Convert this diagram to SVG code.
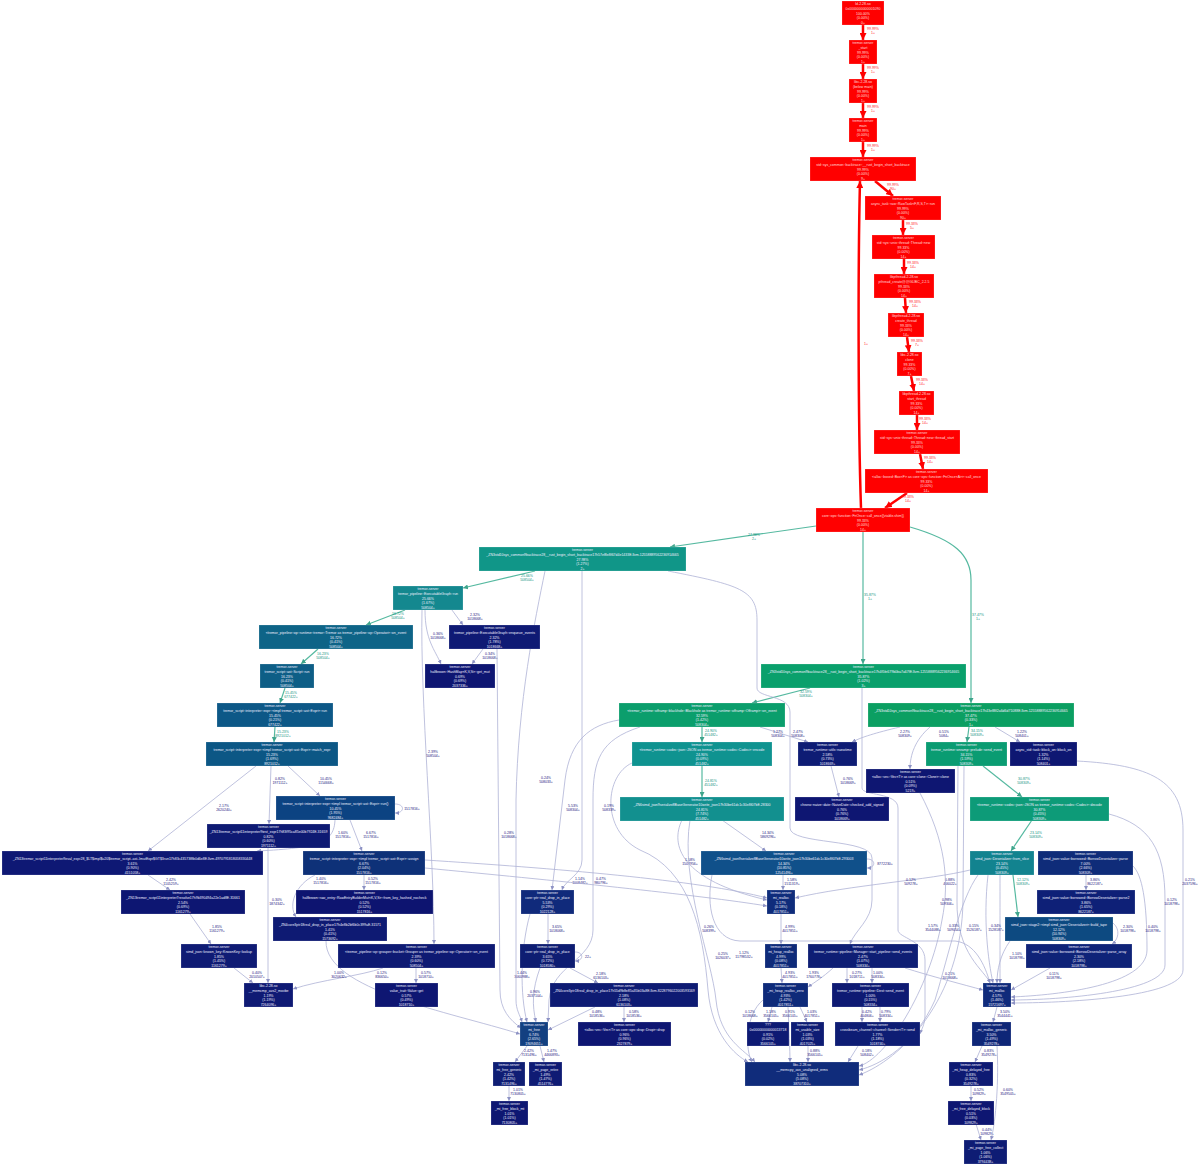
<svg xmlns="http://www.w3.org/2000/svg" width="1200" height="1165" viewBox="0 0 1200 1165">
<defs>
<marker id="ar" viewBox="0 0 10 10" refX="10" refY="5" markerWidth="7" markerHeight="7" markerUnits="userSpaceOnUse" orient="auto"><path d="M0,0 L10,5 L0,10 z" fill="#ff0000"/></marker>
<marker id="at" viewBox="0 0 10 10" refX="10" refY="5" markerWidth="5" markerHeight="5" markerUnits="userSpaceOnUse" orient="auto"><path d="M0,0 L10,5 L0,10 z" fill="#3fa58c"/></marker>
<marker id="an" viewBox="0 0 10 10" refX="10" refY="5" markerWidth="4" markerHeight="4" markerUnits="userSpaceOnUse" orient="auto"><path d="M0,0 L10,5 L0,10 z" fill="#8d92c4"/></marker>
</defs>
<style>
text{font-family:"Liberation Sans",Arial,sans-serif;font-size:3.5px;text-anchor:middle}
.nd rect{stroke:#ffffff;stroke-opacity:.3;stroke-width:.6}
.nd text{fill:#f0f0ff}
.rd rect{fill:#ff0000}
.rd text{fill:#ffdede}
.er{fill:none;stroke:#ff0000;stroke-width:2.5;marker-end:url(#ar)}
.et{fill:none;stroke:#55b9a0;stroke-width:1.2;marker-end:url(#at)}
.en{fill:none;stroke:#aeb2d6;stroke-width:.8;marker-end:url(#an)}
.lr{fill:#ff1a1a}
.lt{fill:#13957f}
.ln{fill:#1c2080}
</style>
<rect width="1200" height="1165" fill="#ffffff"/>
<g id="edges">
<path class="er" d="M863,25 L863,40"/><text class="lr" x="873" y="30">99.99%<tspan x="873" dy="4.2">1+</tspan></text>
<path class="er" d="M863,64 L863,79"/><text class="lr" x="873" y="69">99.99%<tspan x="873" dy="4.2">1+</tspan></text>
<path class="er" d="M863,103 L863,118"/><text class="lr" x="873" y="108">99.99%<tspan x="873" dy="4.2">1+</tspan></text>
<path class="er" d="M863,142 L863,157"/><text class="lr" x="873" y="147">99.99%<tspan x="873" dy="4.2">1+</tspan></text>
<path class="er" d="M875,181 L893,196"/><text class="lr" x="893" y="186">99.99%<tspan x="893" dy="4.2">90+</tspan></text>
<path class="er" d="M903,220 L903,235"/><text class="lr" x="912" y="225">99.33%<tspan x="912" dy="4.2">5+</tspan></text>
<path class="er" d="M904,259 L904,274"/><text class="lr" x="913" y="264">99.33%<tspan x="913" dy="4.2">14+</tspan></text>
<path class="er" d="M905,298 L906,313"/><text class="lr" x="915" y="303">99.33%<tspan x="915" dy="4.2">14+</tspan></text>
<path class="er" d="M907,337 L909,352"/><text class="lr" x="917" y="342">99.33%<tspan x="917" dy="4.2">7+</tspan></text>
<path class="er" d="M911,376 L914,391"/><text class="lr" x="922" y="381">99.33%<tspan x="922" dy="4.2">14+</tspan></text>
<path class="er" d="M917,415 L917,430"/><text class="lr" x="925" y="420">99.33%<tspan x="925" dy="4.2">14+</tspan></text>
<path class="er" d="M920,454 L923,469"/><text class="lr" x="930" y="459">99.33%<tspan x="930" dy="4.2">14+</tspan></text>
<path class="er" d="M907,493 L885,508"/><text class="lr" x="908" y="498">99.33%<tspan x="908" dy="4.2">14+</tspan></text>
<path class="er" d="M861,508 C858,420 858,260 860,181"/><text class="lr" x="866" y="345">1+</text>

<path class="et" d="M816,526 L670,547"/><text class="lt" x="754" y="536">27.98%<tspan x="754" dy="4.2">2+</tspan></text>
<path class="et" d="M863,532 L863,664"/><text class="lt" x="870" y="596">35.87%<tspan x="870" dy="4.2">1+</tspan></text>
<path class="et" d="M910,527 C955,540 971,555 971,580 L971,703"/><text class="lt" x="978" y="616">37.47%<tspan x="978" dy="4.2">1+</tspan></text>
<path class="et" d="M535,571 L463,588"/><text class="lt" x="527" y="577">25.66%<tspan x="527" dy="4.2">508504+</tspan></text>
<path class="et" d="M405,610 L366,625"/><text class="lt" x="398" y="615">16.72%<tspan x="398" dy="4.2">508504+</tspan></text>
<path class="et" d="M318,649 L301,664"/><text class="lt" x="323" y="655">16.23%<tspan x="323" dy="4.2">508504+</tspan></text>
<path class="et" d="M285,688 L280,703"/><text class="lt" x="291" y="694">15.45%<tspan x="291" dy="4.2">677422+</tspan></text>
<path class="et" d="M275,727 L274,742"/><text class="lt" x="283" y="733">15.23%<tspan x="283" dy="4.2">8921012+</tspan></text>
<path class="et" d="M810,688 L752,703"/><text class="lt" x="806" y="693">32.59%<tspan x="806" dy="4.2">508304+</tspan></text>
<path class="et" d="M702,727 L702,742"/><text class="lt" x="711" y="732">24.90%<tspan x="711" dy="4.2">451482+</tspan></text>
<path class="et" d="M702,766 L702,797"/><text class="lt" x="711" y="782">24.81%<tspan x="711" dy="4.2">451482+</tspan></text>
<path class="et" d="M969,727 L967,742"/><text class="lt" x="977" y="732">34.15%<tspan x="977" dy="4.2">508309+</tspan></text>
<path class="et" d="M983,766 L1022,797"/><text class="lt" x="1024" y="780">30.87%<tspan x="1024" dy="4.2">508309+</tspan></text>
<path class="et" d="M1032,820 L1011,851"/><text class="lt" x="1036" y="834">23.14%<tspan x="1036" dy="4.2">508309+</tspan></text>
<path class="et" d="M1013,875 L1018,917"/><text class="lt" x="1023" y="881">12.12%<tspan x="1023" dy="4.2">508309+</tspan></text>

<path class="en" d="M449,606 L463,625"/><text class="ln" x="475" y="616">2.32%<tspan x="475" dy="4.2">1018668+</tspan></text>
<path class="en" d="M425,610 C425,640 435,650 441,664"/><text class="ln" x="438" y="635">0.36%<tspan x="438" dy="4.2">1018668+</tspan></text>
<path class="en" d="M483,649 L472,664"/><text class="ln" x="490" y="655">0.34%<tspan x="490" dy="4.2">1018668+</tspan></text>
<path class="en" d="M422,610 C420,700 434,850 434,944"/><text class="ln" x="433" y="753">2.39%<tspan x="433" dy="4.2">508504+</tspan></text>
<path class="en" d="M497,649 L500,990 C500,1010 510,1020 521,1028"/><text class="ln" x="509" y="834">0.28%<tspan x="509" dy="4.2">1018668+</tspan></text>
<path class="en" d="M288,766 L320,796"/><text class="ln" x="326" y="780">10.45%<tspan x="326" dy="4.2">1154668+</tspan></text>
<path class="en" d="M271,766 L269,824"/><text class="ln" x="280" y="780">0.82%<tspan x="280" dy="4.2">1971112+</tspan></text>
<path class="en" d="M256,766 L148,851"/><text class="ln" x="224" y="807">2.17%<tspan x="224" dy="4.2">2620240+</tspan></text>
<path class="en" d="M395,804 C405,804 405,813 395,813"/><text class="ln" x="412" y="810">1517816+</text>
<path class="en" d="M335,820 C334,842 320,848 257,851"/><text class="ln" x="343" y="834">1.60%<tspan x="343" dy="4.2">1517816+</tspan></text>
<path class="en" d="M350,820 L362,851"/><text class="ln" x="371" y="834">6.67%<tspan x="371" dy="4.2">1517816+</tspan></text>
<path class="en" d="M148,875 L170,890"/><text class="ln" x="171" y="881">2.42%<tspan x="171" dy="4.2">1105259+</tspan></text>
<path class="en" d="M190,914 L211,944"/><text class="ln" x="217" y="928">1.85%<tspan x="217" dy="4.2">1161279+</tspan></text>
<path class="en" d="M234,968 L253,983"/><text class="ln" x="257" y="974">0.40%<tspan x="257" dy="4.2">2010507+</tspan></text>
<path class="en" d="M268,848 L268,983"/><text class="ln" x="277" y="901">0.30%<tspan x="277" dy="4.2">1874342+</tspan></text>
<path class="en" d="M383,968 C360,976 320,980 293,989"/><text class="ln" x="382" y="974">0.12%<tspan x="382" dy="4.2">836650+</tspan></text>
<path class="en" d="M416,968 L416,983"/><text class="ln" x="426" y="974">0.57%<tspan x="426" dy="4.2">1018710+</tspan></text>
<path class="en" d="M364,875 L364,890"/><text class="ln" x="373" y="880">0.52%<tspan x="373" dy="4.2">1517816+</tspan></text>
<path class="en" d="M315,875 C295,885 288,905 296,917"/><text class="ln" x="321" y="880">1.40%<tspan x="321" dy="4.2">1517816+</tspan></text>
<path class="en" d="M326,941 C325,990 450,1012 520,1034"/><text class="ln" x="339" y="974">1.00%<tspan x="339" dy="4.2">3020632+</tspan></text>
<path class="en" d="M425,860 C550,868 700,880 767,898"/><text class="ln" x="580" y="880">1.14%<tspan x="580" dy="4.2">1008482+</tspan></text>
<path class="en" d="M425,868 C550,880 700,895 767,906"/><text class="ln" x="601" y="880">0.47%<tspan x="601" dy="4.2">980796+</tspan></text>
<path class="en" d="M548,914 L548,944"/><text class="ln" x="557" y="928">3.65%<tspan x="557" dy="4.2">1018068+</tspan></text>
<path class="en" d="M575,952 C584,952 584,961 575,961"/><text class="ln" x="588" y="958">22+</text>
<path class="en" d="M530,914 C520,950 520,995 527,1022"/><text class="ln" x="522" y="974">1.44%<tspan x="522" dy="4.2">3060988+</tspan></text>
<path class="en" d="M540,968 C532,990 532,1005 536,1022"/><text class="ln" x="535" y="993">0.96%<tspan x="535" dy="4.2">2037104+</tspan></text>
<path class="en" d="M570,968 L598,983"/><text class="ln" x="601" y="975">2.18%<tspan x="601" dy="4.2">6136103+</tspan></text>
<path class="en" d="M595,1007 L548,1030"/><text class="ln" x="597" y="1013">0.48%<tspan x="597" dy="4.2">1018536+</tspan></text>
<path class="en" d="M624,1007 L624,1022"/><text class="ln" x="634" y="1013">0.58%<tspan x="634" dy="4.2">1018536+</tspan></text>
<path class="en" d="M527,1046 L515,1062"/><text class="ln" x="529" y="1052">2.42%<tspan x="529" dy="4.2">7131496+</tspan></text>
<path class="en" d="M540,1046 L544,1062"/><text class="ln" x="552" y="1052">1.47%<tspan x="552" dy="4.2">4466893+</tspan></text>
<path class="en" d="M509,1085 L509,1101"/><text class="ln" x="518" y="1091">1.01%<tspan x="518" dy="4.2">7130805+</tspan></text>
<path class="en" d="M781,914 L781,944"/><text class="ln" x="790" y="928">4.99%<tspan x="790" dy="4.2">4017851+</tspan></text>
<path class="en" d="M781,968 L782,983"/><text class="ln" x="790" y="974">4.93%<tspan x="790" dy="4.2">4017851+</tspan></text>
<path class="en" d="M772,1007 L768,1022"/><text class="ln" x="771" y="1013">1.18%<tspan x="771" dy="4.2">3566105+</tspan></text>
<path class="en" d="M788,1007 C789,1030 790,1050 790,1062"/><text class="ln" x="790" y="1013">0.91%<tspan x="790" dy="4.2">3566105+</tspan></text>
<path class="en" d="M800,1007 L807,1022"/><text class="ln" x="812" y="1013">1.03%<tspan x="812" dy="4.2">4017851+</tspan></text>
<path class="en" d="M808,1046 L808,1062"/><text class="ln" x="815" y="1052">0.88%<tspan x="815" dy="4.2">3566105+</tspan></text>
<path class="en" d="M763,1000 C745,1015 745,1050 752,1062"/><text class="ln" x="750" y="1013">0.12%<tspan x="750" dy="4.2">1018668+</tspan></text>
<path class="en" d="M997,1007 L993,1022"/><text class="ln" x="1005" y="1013">3.50%<tspan x="1005" dy="4.2">3544441+</tspan></text>
<path class="en" d="M982,1046 L975,1062"/><text class="ln" x="989" y="1052">0.83%<tspan x="989" dy="4.2">3549278+</tspan></text>
<path class="en" d="M971,1085 L971,1101"/><text class="ln" x="979" y="1091">0.52%<tspan x="979" dy="4.2">109829+</tspan></text>
<path class="en" d="M976,1124 L981,1140"/><text class="ln" x="987" y="1131">0.44%<tspan x="987" dy="4.2">109829+</tspan></text>
<path class="en" d="M997,1046 C999,1080 996,1120 991,1140"/><text class="ln" x="1008" y="1091">0.60%<tspan x="1008" dy="4.2">3549505+</tspan></text>
<path class="en" d="M1086,875 L1086,890"/><text class="ln" x="1095" y="881">3.86%<tspan x="1095" dy="4.2">8622187+</tspan></text>
<path class="en" d="M1113,923 C1121,930 1118,940 1112,944"/><text class="ln" x="1128" y="928">2.30%<tspan x="1128" dy="4.2">1018798+</tspan></text>
<path class="en" d="M1010,941 C1000,955 997,970 997,983"/><text class="ln" x="1017" y="955">1.10%<tspan x="1017" dy="4.2">1018798+</tspan></text>
<path class="en" d="M1050,968 L1011,990"/><text class="ln" x="1054" y="975">0.11%<tspan x="1054" dy="4.2">1018798+</tspan></text>
<path class="en" d="M1133,866 C1142,875 1147,900 1147,950 C1147,985 1060,995 1011,997"/><text class="ln" x="1153" y="928">0.40%<tspan x="1153" dy="4.2">1018798+</tspan></text>
<path class="en" d="M1109,814 C1150,825 1165,850 1165,900 L1165,965 C1165,992 1060,1000 1011,1000"/><text class="ln" x="1172" y="901">0.12%<tspan x="1172" dy="4.2">1018798+</tspan></text>
<path class="en" d="M1077,761 C1150,765 1183,780 1183,830 L1183,970 C1183,998 1060,1003 1011,1003"/><text class="ln" x="1190" y="881">0.21%<tspan x="1190" dy="4.2">2037596+</tspan></text>
<path class="en" d="M905,968 C930,976 965,985 983,990"/><text class="ln" x="950" y="975">0.21%<tspan x="950" dy="4.2">1018668+</tspan></text>
<path class="en" d="M872,968 L872,983"/><text class="ln" x="878" y="974">1.00%<tspan x="878" dy="4.2">508334+</tspan></text>
<path class="en" d="M847,968 L847,983"/><text class="ln" x="857" y="974">0.27%<tspan x="857" dy="4.2">1018711+</tspan></text>
<path class="en" d="M833,968 C822,978 815,982 808,987"/><text class="ln" x="814" y="974">1.93%<tspan x="814" dy="4.2">1760778+</tspan></text>
<path class="en" d="M880,1007 L880,1022"/><text class="ln" x="886" y="1013">0.79%<tspan x="886" dy="4.2">508334+</tspan></text>
<path class="en" d="M862,1007 L862,1022"/><text class="ln" x="867" y="1013">0.42%<tspan x="867" dy="4.2">404806+</tspan></text>
<path class="en" d="M858,1046 L848,1062"/><text class="ln" x="867" y="1052">0.18%<tspan x="867" dy="4.2">508402+</tspan></text>
<path class="en" d="M760,727 L808,742"/><text class="ln" x="778" y="733">1.27%<tspan x="778" dy="4.2">508304+</tspan></text>
<path class="en" d="M668,571 C740,585 757,590 757,620 L757,688 C757,698 790,695 790,712 L790,828 C790,845 872,838 872,858 L872,900 C872,920 855,930 850,944"/><text class="ln" x="798" y="733">2.47%<tspan x="798" dy="4.2">508308+</tspan></text>
<path class="en" d="M900,727 C875,733 862,737 852,742"/><text class="ln" x="905" y="733">2.27%<tspan x="905" dy="4.2">508309+</tspan></text>
<path class="en" d="M930,727 C915,740 910,755 910,769"/><text class="ln" x="944" y="733">0.51%<tspan x="944" dy="4.2">5084+</tspan></text>
<path class="en" d="M995,727 L1020,742"/><text class="ln" x="1022" y="733">1.22%<tspan x="1022" dy="4.2">508401+</tspan></text>
<path class="en" d="M831,766 L839,797"/><text class="ln" x="848" y="780">0.76%<tspan x="848" dy="4.2">1018669+</tspan></text>
<path class="en" d="M722,820 L766,851"/><text class="ln" x="768" y="834">14.34%<tspan x="768" dy="4.2">5869296+</tspan></text>
<path class="en" d="M867,859 C876,859 876,868 867,868"/><text class="ln" x="885" y="865">8772230+</text>
<path class="en" d="M682,820 C670,845 680,880 767,900"/><text class="ln" x="690" y="861">1.58%<tspan x="690" dy="4.2">1507956+</tspan></text>
<path class="en" d="M783,875 L783,890"/><text class="ln" x="792" y="881">1.58%<tspan x="792" dy="4.2">1511319+</tspan></text>
<path class="en" d="M690,820 C680,880 712,960 716,1000 C720,1040 745,1050 755,1062"/><text class="ln" x="744" y="954">1.12%<tspan x="744" dy="4.2">11798532+</tspan></text>
<path class="en" d="M632,763 C605,775 600,830 640,850 C690,870 703,930 708,990 C712,1035 735,1055 748,1062"/><text class="ln" x="709" y="928">0.26%<tspan x="709" dy="4.2">508399+</tspan></text>
<path class="en" d="M712,875 C706,905 712,940 740,941 L955,941 C975,943 985,965 990,983"/><text class="ln" x="723" y="955">0.25%<tspan x="723" dy="4.2">1026037+</tspan></text>
<path class="en" d="M970,870 C930,880 850,885 795,898"/><text class="ln" x="911" y="881">0.12%<tspan x="911" dy="4.2">509278+</tspan></text>
<path class="en" d="M978,875 C960,900 950,950 935,1000 C915,1045 880,1065 859,1070"/><text class="ln" x="950" y="881">0.88%<tspan x="950" dy="4.2">466022+</tspan></text>
<path class="en" d="M920,793 C945,840 950,880 942,920 C930,990 885,1060 859,1066"/><text class="ln" x="947" y="901">0.98%<tspan x="947" dy="4.2">509306+</tspan></text>
<path class="en" d="M958,766 L957,900 C956,955 985,970 990,983"/><text class="ln" x="933" y="927">1.57%<tspan x="933" dy="4.2">3544088+</tspan></text>
<path class="en" d="M964,766 L963,900 C962,1000 900,1060 859,1075"/><text class="ln" x="954" y="927">0.33%<tspan x="954" dy="4.2">509054+</tspan></text>
<path class="en" d="M988,875 C983,920 988,960 993,983"/><text class="ln" x="974" y="927">0.15%<tspan x="974" dy="4.2">1526187+</tspan></text>
<path class="en" d="M1000,875 C1000,920 1000,960 1000,983"/><text class="ln" x="996" y="927">0.34%<tspan x="996" dy="4.2">1528187+</tspan></text>
<path class="en" d="M582,571 L582,860 C582,875 565,880 562,890"/>
<path class="en" d="M545,571 C535,620 518,700 516,800 L516,1000 C516,1010 520,1015 522,1022"/><text class="ln" x="546" y="779">0.24%<tspan x="546" dy="4.2">508033+</tspan></text>
<path class="en" d="M619,720 C590,725 570,740 565,780 L552,890"/><text class="ln" x="573" y="807">5.53%<tspan x="573" dy="4.2">508304+</tspan></text>
<path class="en" d="M640,727 C600,740 593,760 593,800 L593,930 C593,960 552,965 549,1000 L548,1022"/><text class="ln" x="609" y="807">0.19%<tspan x="609" dy="4.2">508339+</tspan></text>
<path class="en" d="M862,688 L862,788 C862,796 898,792 898,808 L898,930 C898,938 925,940 925,960 L925,1015 C925,1025 921,1030 920,1034"/>
</g>
<g id="nodes">
<g id="n1" class="nd rd"><rect x="842" y="1" width="42" height="24"/><text x="863" y="5.4"><tspan x="863">ld-2.28.so</tspan><tspan x="863" dy="4.6">0x0000000000001090</tspan><tspan x="863" dy="4.6">100.00%</tspan><tspan x="863" dy="4.6">(0.00%)</tspan><tspan x="863" dy="4.6">0+</tspan></text></g>
<g id="n2" class="nd rd"><rect x="849" y="40" width="28" height="24"/><text x="863" y="44.4"><tspan x="863">tremor-server</tspan><tspan x="863" dy="4.6">_start</tspan><tspan x="863" dy="4.6">99.99%</tspan><tspan x="863" dy="4.6">(0.00%)</tspan><tspan x="863" dy="4.6">1+</tspan></text></g>
<g id="n3" class="nd rd"><rect x="849" y="79" width="28" height="24"/><text x="863" y="83.4"><tspan x="863">libc-2.28.so</tspan><tspan x="863" dy="4.6">(below main)</tspan><tspan x="863" dy="4.6">99.99%</tspan><tspan x="863" dy="4.6">(0.00%)</tspan><tspan x="863" dy="4.6">1+</tspan></text></g>
<g id="n4" class="nd rd"><rect x="849" y="118" width="28" height="24"/><text x="863" y="122.4"><tspan x="863">tremor-server</tspan><tspan x="863" dy="4.6">main</tspan><tspan x="863" dy="4.6">99.99%</tspan><tspan x="863" dy="4.6">(0.00%)</tspan><tspan x="863" dy="4.6">1+</tspan></text></g>
<g id="n5" class="nd rd"><rect x="810" y="157" width="106" height="24"/><text x="863" y="161.4"><tspan x="863">tremor-server</tspan><tspan x="863" dy="4.6">std::sys_common::backtrace::__rust_begin_short_backtrace</tspan><tspan x="863" dy="4.6">99.99%</tspan><tspan x="863" dy="4.6">(0.00%)</tspan><tspan x="863" dy="4.6">9+</tspan></text></g>
<g id="n6" class="nd rd"><rect x="865" y="196" width="76" height="24"/><text x="903" y="200.4"><tspan x="903">tremor-server</tspan><tspan x="903" dy="4.6">async_task::raw::RawTask&lt;F,R,S,T&gt;::run</tspan><tspan x="903" dy="4.6">99.99%</tspan><tspan x="903" dy="4.6">(0.00%)</tspan><tspan x="903" dy="4.6">90+</tspan></text></g>
<g id="n7" class="nd rd"><rect x="872" y="235" width="63" height="24"/><text x="903.5" y="239.4"><tspan x="903.5">tremor-server</tspan><tspan x="903.5" dy="4.6">std::sys::unix::thread::Thread::new</tspan><tspan x="903.5" dy="4.6">99.33%</tspan><tspan x="903.5" dy="4.6">(0.00%)</tspan><tspan x="903.5" dy="4.6">14+</tspan></text></g>
<g id="n8" class="nd rd"><rect x="874" y="274" width="60" height="24"/><text x="904" y="278.4"><tspan x="904">libpthread-2.28.so</tspan><tspan x="904" dy="4.6">pthread_create@@GLIBC_2.2.5</tspan><tspan x="904" dy="4.6">99.33%</tspan><tspan x="904" dy="4.6">(0.00%)</tspan><tspan x="904" dy="4.6">14+</tspan></text></g>
<g id="n9" class="nd rd"><rect x="888" y="313" width="36" height="24"/><text x="906" y="317.4"><tspan x="906">libpthread-2.28.so</tspan><tspan x="906" dy="4.6">create_thread</tspan><tspan x="906" dy="4.6">99.33%</tspan><tspan x="906" dy="4.6">(0.00%)</tspan><tspan x="906" dy="4.6">14+</tspan></text></g>
<g id="n10" class="nd rd"><rect x="897" y="352" width="25" height="24"/><text x="909.5" y="356.4"><tspan x="909.5">libc-2.28.so</tspan><tspan x="909.5" dy="4.6">clone</tspan><tspan x="909.5" dy="4.6">99.33%</tspan><tspan x="909.5" dy="4.6">(0.00%)</tspan><tspan x="909.5" dy="4.6">7+</tspan></text></g>
<g id="n11" class="nd rd"><rect x="899" y="391" width="35" height="24"/><text x="916.5" y="395.4"><tspan x="916.5">libpthread-2.28.so</tspan><tspan x="916.5" dy="4.6">start_thread</tspan><tspan x="916.5" dy="4.6">99.33%</tspan><tspan x="916.5" dy="4.6">(0.00%)</tspan><tspan x="916.5" dy="4.6">14+</tspan></text></g>
<g id="n12" class="nd rd"><rect x="874" y="430" width="86" height="24"/><text x="917" y="434.4"><tspan x="917">tremor-server</tspan><tspan x="917" dy="4.6">std::sys::unix::thread::Thread::new::thread_start</tspan><tspan x="917" dy="4.6">99.33%</tspan><tspan x="917" dy="4.6">(0.00%)</tspan><tspan x="917" dy="4.6">14+</tspan></text></g>
<g id="n13" class="nd rd"><rect x="865" y="469" width="123" height="24"/><text x="926.5" y="473.4"><tspan x="926.5">tremor-server</tspan><tspan x="926.5" dy="4.6">&lt;alloc::boxed::Box&lt;F&gt; as core::ops::function::FnOnce&lt;A&gt;&gt;::call_once</tspan><tspan x="926.5" dy="4.6">99.33%</tspan><tspan x="926.5" dy="4.6">(0.00%)</tspan><tspan x="926.5" dy="4.6">14+</tspan></text></g>
<g id="n14" class="nd rd"><rect x="816" y="508" width="94" height="24"/><text x="863" y="512.4"><tspan x="863">tremor-server</tspan><tspan x="863" dy="4.6">core::ops::function::FnOnce::call_once{{vtable.shim}}</tspan><tspan x="863" dy="4.6">99.33%</tspan><tspan x="863" dy="4.6">(0.00%)</tspan><tspan x="863" dy="4.6">14+</tspan></text></g>

<g id="nA" class="nd"><rect x="479" y="547" width="207" height="24" fill="#109688"/><text x="582.5" y="551.4"><tspan x="582.5">tremor-server</tspan><tspan x="582.5" dy="4.6">_ZN3std10sys_common9backtrace28__rust_begin_short_backtrace17h57ef8e8f67d4e1433E.llvm.12558889562236914665</tspan><tspan x="582.5" dy="4.6">27.98%</tspan><tspan x="582.5" dy="4.6">(1.27%)</tspan><tspan x="582.5" dy="4.6">2+</tspan></text></g>
<g id="nB" class="nd"><rect x="761" y="664" width="205" height="24" fill="#0aa06c"/><text x="863.5" y="668.4"><tspan x="863.5">tremor-server</tspan><tspan x="863.5" dy="4.6">_ZN3std10sys_common9backtrace28__rust_begin_short_backtrace17h4f5fe679b0ba7a67fE.llvm.12558889562236914665</tspan><tspan x="863.5" dy="4.6">35.87%</tspan><tspan x="863.5" dy="4.6">(1.02%)</tspan><tspan x="863.5" dy="4.6">3+</tspan></text></g>
<g id="nC" class="nd"><rect x="868" y="703" width="206" height="24" fill="#0b9f62"/><text x="971" y="707.4"><tspan x="971">tremor-server</tspan><tspan x="971" dy="4.6">_ZN3std10sys_common9backtrace28__rust_begin_short_backtrace17h43e88f2a6d6d71088E.llvm.12558889562236914665</tspan><tspan x="971" dy="4.6">37.47%</tspan><tspan x="971" dy="4.6">(0.33%)</tspan><tspan x="971" dy="4.6">1+</tspan></text></g>
<g id="nD" class="nd"><rect x="393" y="586" width="70" height="24" fill="#14888f"/><text x="428" y="590.4"><tspan x="428">tremor-server</tspan><tspan x="428" dy="4.6">tremor_pipeline::ExecutableGraph::run</tspan><tspan x="428" dy="4.6">25.66%</tspan><tspan x="428" dy="4.6">(1.67%)</tspan><tspan x="428" dy="4.6">508504+</tspan></text></g>
<g id="nE" class="nd"><rect x="259" y="625" width="154" height="24" fill="#0e6487"/><text x="336" y="629.4"><tspan x="336">tremor-server</tspan><tspan x="336" dy="4.6">&lt;tremor_pipeline::op::runtime::tremor::Tremor as tremor_pipeline::op::Operator&gt;::on_event</tspan><tspan x="336" dy="4.6">16.72%</tspan><tspan x="336" dy="4.6">(0.41%)</tspan><tspan x="336" dy="4.6">508504+</tspan></text></g>
<g id="nF" class="nd"><rect x="449" y="625" width="91" height="24" fill="#0f1a74"/><text x="494.5" y="629.4"><tspan x="494.5">tremor-server</tspan><tspan x="494.5" dy="4.6">tremor_pipeline::ExecutableGraph::enqueue_events</tspan><tspan x="494.5" dy="4.6">2.32%</tspan><tspan x="494.5" dy="4.6">(1.78%)</tspan><tspan x="494.5" dy="4.6">1018668+</tspan></text></g>
<g id="nG" class="nd"><rect x="425" y="664" width="70" height="24" fill="#0e1672"/><text x="460" y="668.4"><tspan x="460">tremor-server</tspan><tspan x="460" dy="4.6">halfbrown::HashMap&lt;K,V,S&gt;::get_mut</tspan><tspan x="460" dy="4.6">0.69%</tspan><tspan x="460" dy="4.6">(0.69%)</tspan><tspan x="460" dy="4.6">2037336+</tspan></text></g>
<g id="nH" class="nd"><rect x="260" y="664" width="54" height="24" fill="#0e5e86"/><text x="287" y="668.4"><tspan x="287">tremor-server</tspan><tspan x="287" dy="4.6">tremor_script::ast::Script::run</tspan><tspan x="287" dy="4.6">16.23%</tspan><tspan x="287" dy="4.6">(0.41%)</tspan><tspan x="287" dy="4.6">508504+</tspan></text></g>
<g id="nI" class="nd"><rect x="217" y="703" width="116" height="24" fill="#0d5887"/><text x="275" y="707.4"><tspan x="275">tremor-server</tspan><tspan x="275" dy="4.6">tremor_script::interpreter::expr::&lt;impl tremor_script::ast::Expr&gt;::run</tspan><tspan x="275" dy="4.6">15.45%</tspan><tspan x="275" dy="4.6">(0.21%)</tspan><tspan x="275" dy="4.6">677422+</tspan></text></g>
<g id="nJ" class="nd"><rect x="206" y="742" width="132" height="24" fill="#0c5785"/><text x="272" y="746.4"><tspan x="272">tremor-server</tspan><tspan x="272" dy="4.6">tremor_script::interpreter::expr::&lt;impl tremor_script::ast::Expr&gt;::match_expr</tspan><tspan x="272" dy="4.6">15.23%</tspan><tspan x="272" dy="4.6">(1.69%)</tspan><tspan x="272" dy="4.6">8921012+</tspan></text></g>
<g id="nK" class="nd"><rect x="276" y="796" width="119" height="24" fill="#0c4382"/><text x="335.5" y="800.4"><tspan x="335.5">tremor-server</tspan><tspan x="335.5" dy="4.6">tremor_script::interpreter::expr::&lt;impl tremor_script::ast::Expr&gt;::run()</tspan><tspan x="335.5" dy="4.6">10.45%</tspan><tspan x="335.5" dy="4.6">(1.95%)</tspan><tspan x="335.5" dy="4.6">9682484+</tspan></text></g>
<g id="nL" class="nd"><rect x="207" y="824" width="123" height="24" fill="#0e1a73"/><text x="268.5" y="828.4"><tspan x="268.5">tremor-server</tspan><tspan x="268.5" dy="4.6">_ZN13tremor_script11interpreter9test_expr17h83f95ca85e00b7924E.31659</tspan><tspan x="268.5" dy="4.6">0.82%</tspan><tspan x="268.5" dy="4.6">(0.60%)</tspan><tspan x="268.5" dy="4.6">1971112+</tspan></text></g>
<g id="nM" class="nd"><rect x="2" y="851" width="261" height="24" fill="#0e1874"/><text x="132.5" y="855.4"><tspan x="132.5">tremor-server</tspan><tspan x="132.5" dy="4.6">_ZN13tremor_script11interpreter9eval_expr28_$LT$impl$u20$tremor_script..ast..ImutExpr$GT$3run17h83c43573f8b0d6e8E.llvm.4970791818058330448</tspan><tspan x="132.5" dy="4.6">3.61%</tspan><tspan x="132.5" dy="4.6">(0.90%)</tspan><tspan x="132.5" dy="4.6">4151058+</tspan></text></g>
<g id="nN" class="nd"><rect x="303" y="851" width="122" height="24" fill="#0e3178"/><text x="364" y="855.4"><tspan x="364">tremor-server</tspan><tspan x="364" dy="4.6">tremor_script::interpreter::expr::&lt;impl tremor_script::ast::Expr&gt;::assign</tspan><tspan x="364" dy="4.6">6.67%</tspan><tspan x="364" dy="4.6">(2.04%)</tspan><tspan x="364" dy="4.6">1517816+</tspan></text></g>
<g id="nO" class="nd"><rect x="121" y="890" width="124" height="24" fill="#0d1672"/><text x="183" y="894.4"><tspan x="183">tremor-server</tspan><tspan x="183" dy="4.6">_ZN13tremor_script11interpreter7resolve17h9b390494a22e1ad8E.31661</tspan><tspan x="183" dy="4.6">2.54%</tspan><tspan x="183" dy="4.6">(0.69%)</tspan><tspan x="183" dy="4.6">1161279+</tspan></text></g>
<g id="nP" class="nd"><rect x="181" y="944" width="76" height="24" fill="#0f1b74"/><text x="219" y="948.4"><tspan x="219">tremor-server</tspan><tspan x="219" dy="4.6">simd_json::known_key::KnownKey::lookup</tspan><tspan x="219" dy="4.6">1.85%</tspan><tspan x="219" dy="4.6">(1.45%)</tspan><tspan x="219" dy="4.6">1161279+</tspan></text></g>
<g id="nQ" class="nd"><rect x="244" y="983" width="49" height="24" fill="#0f1a74"/><text x="268.5" y="987.4"><tspan x="268.5">libc-2.28.so</tspan><tspan x="268.5" dy="4.6">__memcmp_avx2_movbe</tspan><tspan x="268.5" dy="4.6">1.19%</tspan><tspan x="268.5" dy="4.6">(1.19%)</tspan><tspan x="268.5" dy="4.6">7264096+</tspan></text></g>
<g id="nR" class="nd"><rect x="296" y="890" width="137" height="24" fill="#0d1470"/><text x="364.5" y="894.4"><tspan x="364.5">tremor-server</tspan><tspan x="364.5" dy="4.6">halfbrown::raw_entry::RawEntryBuilderMut&lt;K,V,S&gt;::from_key_hashed_nocheck</tspan><tspan x="364.5" dy="4.6">0.52%</tspan><tspan x="364.5" dy="4.6">(0.52%)</tspan><tspan x="364.5" dy="4.6">1517816+</tspan></text></g>
<g id="nS" class="nd"><rect x="273" y="917" width="114" height="24" fill="#0e1a73"/><text x="330" y="921.4"><tspan x="330">tremor-server</tspan><tspan x="330" dy="4.6">_ZN4core3ptr18real_drop_in_place17h4e8b2bf6b0c399aE.31571</tspan><tspan x="330" dy="4.6">1.41%</tspan><tspan x="330" dy="4.6">(0.41%)</tspan><tspan x="330" dy="4.6">1573692+</tspan></text></g>
<g id="nT" class="nd"><rect x="338" y="944" width="157" height="24" fill="#0e1a73"/><text x="416.5" y="948.4"><tspan x="416.5">tremor-server</tspan><tspan x="416.5" dy="4.6">&lt;tremor_pipeline::op::grouper::bucket::Grouper as tremor_pipeline::op::Operator&gt;::on_event</tspan><tspan x="416.5" dy="4.6">2.39%</tspan><tspan x="416.5" dy="4.6">(0.60%)</tspan><tspan x="416.5" dy="4.6">508504+</tspan></text></g>
<g id="nU" class="nd"><rect x="375" y="983" width="63" height="24" fill="#0e1672"/><text x="406.5" y="987.4"><tspan x="406.5">tremor-server</tspan><tspan x="406.5" dy="4.6">value_trait::Value::get</tspan><tspan x="406.5" dy="4.6">0.57%</tspan><tspan x="406.5" dy="4.6">(0.49%)</tspan><tspan x="406.5" dy="4.6">1018710+</tspan></text></g>
<g id="nV" class="nd"><rect x="521" y="890" width="53" height="24" fill="#102a7b"/><text x="547.5" y="894.4"><tspan x="547.5">tremor-server</tspan><tspan x="547.5" dy="4.6">core::ptr::real_drop_in_place</tspan><tspan x="547.5" dy="4.6">5.53%</tspan><tspan x="547.5" dy="4.6">(0.29%)</tspan><tspan x="547.5" dy="4.6">1022128+</tspan></text></g>
<g id="nW" class="nd"><rect x="520" y="944" width="55" height="24" fill="#0e1d72"/><text x="547.5" y="948.4"><tspan x="547.5">tremor-server</tspan><tspan x="547.5" dy="4.6">core::ptr::real_drop_in_place</tspan><tspan x="547.5" dy="4.6">3.65%</tspan><tspan x="547.5" dy="4.6">(0.72%)</tspan><tspan x="547.5" dy="4.6">1018580+</tspan></text></g>
<g id="nX" class="nd"><rect x="550" y="983" width="148" height="24" fill="#0e1b73"/><text x="624" y="987.4"><tspan x="624">tremor-server</tspan><tspan x="624" dy="4.6">_ZN4core3ptr18real_drop_in_place17h55d9b8e85a35b03a8E.llvm.8228796022003593169</tspan><tspan x="624" dy="4.6">2.18%</tspan><tspan x="624" dy="4.6">(1.08%)</tspan><tspan x="624" dy="4.6">6136103+</tspan></text></g>
<g id="nY" class="nd"><rect x="520" y="1022" width="28" height="24" fill="#134081"/><text x="534" y="1026.4"><tspan x="534">tremor-server</tspan><tspan x="534" dy="4.6">mi_free</tspan><tspan x="534" dy="4.6">6.74%</tspan><tspan x="534" dy="4.6">(2.65%)</tspan><tspan x="534" dy="4.6">19094651+</tspan></text></g>
<g id="nZ" class="nd"><rect x="578" y="1022" width="93" height="24" fill="#0e1672"/><text x="624.5" y="1026.4"><tspan x="624.5">tremor-server</tspan><tspan x="624.5" dy="4.6">&lt;alloc::vec::Vec&lt;T&gt; as core::ops::drop::Drop&gt;::drop</tspan><tspan x="624.5" dy="4.6">0.96%</tspan><tspan x="624.5" dy="4.6">(0.96%)</tspan><tspan x="624.5" dy="4.6">2327879+</tspan></text></g>
<g id="nAA" class="nd"><rect x="493" y="1062" width="32" height="24" fill="#0f1e74"/><text x="509" y="1066.4"><tspan x="509">tremor-server</tspan><tspan x="509" dy="4.6">mi_free_generic</tspan><tspan x="509" dy="4.6">2.42%</tspan><tspan x="509" dy="4.6">(1.42%)</tspan><tspan x="509" dy="4.6">7131496+</tspan></text></g>
<g id="nAB" class="nd"><rect x="529" y="1062" width="33" height="24" fill="#0f1b74"/><text x="545.5" y="1066.4"><tspan x="545.5">tremor-server</tspan><tspan x="545.5" dy="4.6">_mi_page_retire</tspan><tspan x="545.5" dy="4.6">1.49%</tspan><tspan x="545.5" dy="4.6">(1.47%)</tspan><tspan x="545.5" dy="4.6">4514776+</tspan></text></g>
<g id="nAC" class="nd"><rect x="491" y="1101" width="37" height="24" fill="#0e1772"/><text x="509.5" y="1105.4"><tspan x="509.5">tremor-server</tspan><tspan x="509.5" dy="4.6">_mi_free_block_mt</tspan><tspan x="509.5" dy="4.6">1.01%</tspan><tspan x="509.5" dy="4.6">(1.01%)</tspan><tspan x="509.5" dy="4.6">7130805+</tspan></text></g>
<g id="nOF" class="nd"><rect x="619" y="703" width="166" height="24" fill="#0b9e6c"/><text x="702" y="707.4"><tspan x="702">tremor-server</tspan><tspan x="702" dy="4.6">&lt;tremor_runtime::offramp::blackhole::Blackhole as tremor_runtime::offramp::Offramp&gt;::on_event</tspan><tspan x="702" dy="4.6">32.59%</tspan><tspan x="702" dy="4.6">(1.42%)</tspan><tspan x="702" dy="4.6">508304+</tspan></text></g>
<g id="nJE" class="nd"><rect x="632" y="742" width="140" height="24" fill="#0f9390"/><text x="702" y="746.4"><tspan x="702">tremor-server</tspan><tspan x="702" dy="4.6">&lt;tremor_runtime::codec::json::JSON as tremor_runtime::codec::Codec&gt;::encode</tspan><tspan x="702" dy="4.6">24.90%</tspan><tspan x="702" dy="4.6">(0.09%)</tspan><tspan x="702" dy="4.6">451482+</tspan></text></g>
<g id="nJG1" class="nd"><rect x="620" y="797" width="164" height="24" fill="#12908f"/><text x="702" y="801.4"><tspan x="702">tremor-server</tspan><tspan x="702" dy="4.6">_ZN6simd_json9serialize8BaseGenerator10write_json17h30be61dc1c30e8f07bE.28300</tspan><tspan x="702" dy="4.6">24.81%</tspan><tspan x="702" dy="4.6">(7.74%)</tspan><tspan x="702" dy="4.6">451482+</tspan></text></g>
<g id="nJG2" class="nd"><rect x="701" y="851" width="166" height="24" fill="#10508a"/><text x="784" y="855.4"><tspan x="784">tremor-server</tspan><tspan x="784" dy="4.6">_ZN6simd_json9serialize8BaseGenerator10write_json17h30be61dc1c30e8f07bE.293003</tspan><tspan x="784" dy="4.6">14.34%</tspan><tspan x="784" dy="4.6">(10.85%)</tspan><tspan x="784" dy="4.6">12541496+</tspan></text></g>
<g id="nNT" class="nd"><rect x="798" y="742" width="59" height="24" fill="#0e1c74"/><text x="827.5" y="746.4"><tspan x="827.5">tremor-server</tspan><tspan x="827.5" dy="4.6">tremor_runtime::utils::nanotime</tspan><tspan x="827.5" dy="4.6">2.58%</tspan><tspan x="827.5" dy="4.6">(0.73%)</tspan><tspan x="827.5" dy="4.6">1018669+</tspan></text></g>
<g id="nCH" class="nd"><rect x="795" y="797" width="94" height="24" fill="#0e1672"/><text x="842" y="801.4"><tspan x="842">tremor-server</tspan><tspan x="842" dy="4.6">chrono::naive::date::NaiveDate::checked_add_signed</tspan><tspan x="842" dy="4.6">0.76%</tspan><tspan x="842" dy="4.6">(0.76%)</tspan><tspan x="842" dy="4.6">1018669+</tspan></text></g>
<g id="nVC" class="nd"><rect x="866" y="769" width="89" height="24" fill="#0e1672"/><text x="910.5" y="773.4"><tspan x="910.5">tremor-server</tspan><tspan x="910.5" dy="4.6">&lt;alloc::vec::Vec&lt;T&gt; as core::clone::Clone&gt;::clone</tspan><tspan x="910.5" dy="4.6">0.51%</tspan><tspan x="910.5" dy="4.6">(0.09%)</tspan><tspan x="910.5" dy="4.6">5219+</tspan></text></g>
<g id="nPR" class="nd"><rect x="926" y="742" width="81" height="24" fill="#0a9c72"/><text x="966.5" y="746.4"><tspan x="966.5">tremor-server</tspan><tspan x="966.5" dy="4.6">tremor_runtime::onramp::prelude::send_event</tspan><tspan x="966.5" dy="4.6">34.15%</tspan><tspan x="966.5" dy="4.6">(1.59%)</tspan><tspan x="966.5" dy="4.6">508309+</tspan></text></g>
<g id="nAS" class="nd"><rect x="1010" y="742" width="67" height="24" fill="#0e1772"/><text x="1043.5" y="746.4"><tspan x="1043.5">tremor-server</tspan><tspan x="1043.5" dy="4.6">async_std::task::block_on::block_on</tspan><tspan x="1043.5" dy="4.6">1.32%</tspan><tspan x="1043.5" dy="4.6">(1.14%)</tspan><tspan x="1043.5" dy="4.6">508401+</tspan></text></g>
<g id="nJD" class="nd"><rect x="970" y="797" width="139" height="24" fill="#0d9b78"/><text x="1039.5" y="801.4"><tspan x="1039.5">tremor-server</tspan><tspan x="1039.5" dy="4.6">&lt;tremor_runtime::codec::json::JSON as tremor_runtime::codec::Codec&gt;::decode</tspan><tspan x="1039.5" dy="4.6">30.87%</tspan><tspan x="1039.5" dy="4.6">(0.45%)</tspan><tspan x="1039.5" dy="4.6">508309+</tspan></text></g>
<g id="nFS" class="nd"><rect x="970" y="851" width="64" height="24" fill="#12838f"/><text x="1002" y="855.4"><tspan x="1002">tremor-server</tspan><tspan x="1002" dy="4.6">simd_json::Deserializer::from_slice</tspan><tspan x="1002" dy="4.6">23.14%</tspan><tspan x="1002" dy="4.6">(0.45%)</tspan><tspan x="1002" dy="4.6">508309+</tspan></text></g>
<g id="nBP" class="nd"><rect x="1038" y="851" width="95" height="24" fill="#0f2c79"/><text x="1085.5" y="855.4"><tspan x="1085.5">tremor-server</tspan><tspan x="1085.5" dy="4.6">simd_json::value::borrowed::BorrowDeserializer::parse</tspan><tspan x="1085.5" dy="4.6">7.00%</tspan><tspan x="1085.5" dy="4.6">(2.66%)</tspan><tspan x="1085.5" dy="4.6">508309+</tspan></text></g>
<g id="nBP2" class="nd"><rect x="1037" y="890" width="98" height="24" fill="#0e2077"/><text x="1086" y="894.4"><tspan x="1086">tremor-server</tspan><tspan x="1086" dy="4.6">simd_json::value::borrowed::BorrowDeserializer::parse2</tspan><tspan x="1086" dy="4.6">3.86%</tspan><tspan x="1086" dy="4.6">(1.65%)</tspan><tspan x="1086" dy="4.6">8622187+</tspan></text></g>
<g id="nBT" class="nd"><rect x="1005" y="917" width="108" height="24" fill="#0d4a81"/><text x="1059" y="921.4"><tspan x="1059">tremor-server</tspan><tspan x="1059" dy="4.6">simd_json::stage2::&lt;impl simd_json::Deserializer&gt;::build_tape</tspan><tspan x="1059" dy="4.6">12.12%</tspan><tspan x="1059" dy="4.6">(10.94%)</tspan><tspan x="1059" dy="4.6">508309+</tspan></text></g>
<g id="nPA" class="nd"><rect x="1026" y="944" width="106" height="24" fill="#0f2378"/><text x="1079" y="948.4"><tspan x="1079">tremor-server</tspan><tspan x="1079" dy="4.6">simd_json::value::borrowed::BorrowDeserializer::parse_array</tspan><tspan x="1079" dy="4.6">2.30%</tspan><tspan x="1079" dy="4.6">(2.18%)</tspan><tspan x="1079" dy="4.6">1018798+</tspan></text></g>
<g id="nMM" class="nd"><rect x="983" y="983" width="28" height="24" fill="#102b7b"/><text x="997" y="987.4"><tspan x="997">tremor-server</tspan><tspan x="997" dy="4.6">mi_malloc</tspan><tspan x="997" dy="4.6">4.57%</tspan><tspan x="997" dy="4.6">(1.46%)</tspan><tspan x="997" dy="4.6">15721697+</tspan></text></g>
<g id="nMG" class="nd"><rect x="972" y="1022" width="39" height="24" fill="#0e2677"/><text x="991.5" y="1026.4"><tspan x="991.5">tremor-server</tspan><tspan x="991.5" dy="4.6">_mi_malloc_generic</tspan><tspan x="991.5" dy="4.6">3.50%</tspan><tspan x="991.5" dy="4.6">(1.49%)</tspan><tspan x="991.5" dy="4.6">3549278+</tspan></text></g>
<g id="nHD" class="nd"><rect x="949" y="1062" width="44" height="24" fill="#0e1a73"/><text x="971" y="1066.4"><tspan x="971">tremor-server</tspan><tspan x="971" dy="4.6">_mi_heap_delayed_free</tspan><tspan x="971" dy="4.6">0.83%</tspan><tspan x="971" dy="4.6">(0.32%)</tspan><tspan x="971" dy="4.6">3549278+</tspan></text></g>
<g id="nFD" class="nd"><rect x="948" y="1101" width="46" height="24" fill="#0e1672"/><text x="971" y="1105.4"><tspan x="971">tremor-server</tspan><tspan x="971" dy="4.6">_mi_free_delayed_block</tspan><tspan x="971" dy="4.6">0.51%</tspan><tspan x="971" dy="4.6">(0.03%)</tspan><tspan x="971" dy="4.6">109829+</tspan></text></g>
<g id="nPC" class="nd"><rect x="964" y="1140" width="43" height="24" fill="#0e1c74"/><text x="985.5" y="1144.4"><tspan x="985.5">tremor-server</tspan><tspan x="985.5" dy="4.6">_mi_page_free_collect</tspan><tspan x="985.5" dy="4.6">1.06%</tspan><tspan x="985.5" dy="4.6">(1.06%)</tspan><tspan x="985.5" dy="4.6">3794438+</tspan></text></g>
<g id="nMR" class="nd"><rect x="767" y="890" width="28" height="24" fill="#0f2c7b"/><text x="781" y="894.4"><tspan x="781">tremor-server</tspan><tspan x="781" dy="4.6">mi_realloc</tspan><tspan x="781" dy="4.6">5.17%</tspan><tspan x="781" dy="4.6">(0.18%)</tspan><tspan x="781" dy="4.6">4017851+</tspan></text></g>
<g id="nHR" class="nd"><rect x="765" y="944" width="32" height="24" fill="#0e2a79"/><text x="781" y="948.4"><tspan x="781">tremor-server</tspan><tspan x="781" dy="4.6">mi_heap_realloc</tspan><tspan x="781" dy="4.6">4.99%</tspan><tspan x="781" dy="4.6">(0.08%)</tspan><tspan x="781" dy="4.6">4017851+</tspan></text></g>
<g id="nHZ" class="nd"><rect x="763" y="983" width="45" height="24" fill="#0e2a79"/><text x="785.5" y="987.4"><tspan x="785.5">tremor-server</tspan><tspan x="785.5" dy="4.6">_mi_heap_realloc_zero</tspan><tspan x="785.5" dy="4.6">4.93%</tspan><tspan x="785.5" dy="4.6">(1.42%)</tspan><tspan x="785.5" dy="4.6">4017851+</tspan></text></g>
<g id="nQQ" class="nd"><rect x="747" y="1022" width="42" height="24" fill="#0e1a73"/><text x="768" y="1026.4"><tspan x="768">???</tspan><tspan x="768" dy="4.6">0x00000000000013718</tspan><tspan x="768" dy="4.6">0.91%</tspan><tspan x="768" dy="4.6">(0.02%)</tspan><tspan x="768" dy="4.6">3566105+</tspan></text></g>
<g id="nUS" class="nd"><rect x="791" y="1022" width="33" height="24" fill="#0e1c74"/><text x="807.5" y="1026.4"><tspan x="807.5">tremor-server</tspan><tspan x="807.5" dy="4.6">mi_usable_size</tspan><tspan x="807.5" dy="4.6">1.03%</tspan><tspan x="807.5" dy="4.6">(1.03%)</tspan><tspan x="807.5" dy="4.6">4017025+</tspan></text></g>
<g id="nMC" class="nd"><rect x="745" y="1062" width="114" height="24" fill="#102c7b"/><text x="802" y="1066.4"><tspan x="802">libc-2.28.so</tspan><tspan x="802" dy="4.6">__memcpy_avx_unaligned_erms</tspan><tspan x="802" dy="4.6">5.08%</tspan><tspan x="802" dy="4.6">(5.08%)</tspan><tspan x="802" dy="4.6">38707310+</tspan></text></g>
<g id="nSE" class="nd"><rect x="808" y="944" width="110" height="24" fill="#0e1e74"/><text x="863" y="948.4"><tspan x="863">tremor-server</tspan><tspan x="863" dy="4.6">tremor_runtime::pipeline::Manager::start_pipeline::send_events</tspan><tspan x="863" dy="4.6">2.47%</tspan><tspan x="863" dy="4.6">(1.07%)</tspan><tspan x="863" dy="4.6">508334+</tspan></text></g>
<g id="nDS" class="nd"><rect x="832" y="983" width="77" height="24" fill="#0e1a73"/><text x="870.5" y="987.4"><tspan x="870.5">tremor-server</tspan><tspan x="870.5" dy="4.6">tremor_runtime::pipeline::Dest::send_event</tspan><tspan x="870.5" dy="4.6">1.00%</tspan><tspan x="870.5" dy="4.6">(0.15%)</tspan><tspan x="870.5" dy="4.6">508334+</tspan></text></g>
<g id="nCB" class="nd"><rect x="835" y="1022" width="85" height="24" fill="#0e1d74"/><text x="877.5" y="1026.4"><tspan x="877.5">tremor-server</tspan><tspan x="877.5" dy="4.6">crossbeam_channel::channel::Sender&lt;T&gt;::send</tspan><tspan x="877.5" dy="4.6">1.77%</tspan><tspan x="877.5" dy="4.6">(1.18%)</tspan><tspan x="877.5" dy="4.6">1018740+</tspan></text></g>
</g>
</svg>
